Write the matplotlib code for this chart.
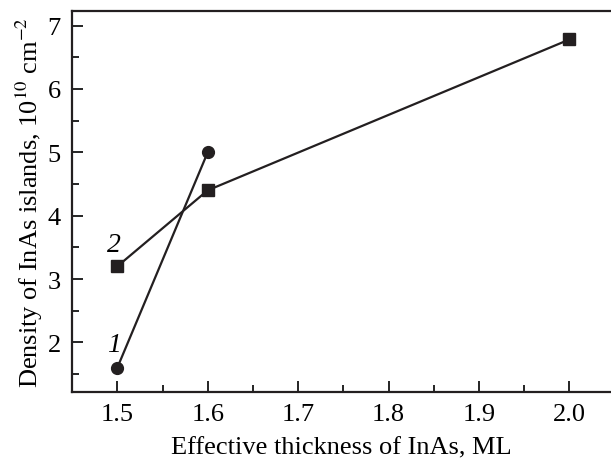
import matplotlib.pyplot as plt
from matplotlib.ticker import MultipleLocator

plt.rcParams['font.family'] = ['Liberation Serif', 'DejaVu Serif']
plt.rcParams['mathtext.fontset'] = 'stix'

# Data
x1 = [1.5, 1.6]
y1 = [1.6, 5.0]
x2 = [1.5, 1.6, 2.0]
y2 = [3.2, 4.4, 6.78]

fig = plt.figure(figsize=(6.11, 4.6), dpi=100)
ax = fig.add_axes([0.118, 0.146, 0.882, 0.828])

ax.plot(x1, y1, color='#231f20', lw=1.6, marker='o', ms=8.5)
ax.plot(x2, y2, color='#231f20', lw=1.6, marker='s', ms=8.5)

ax.text(1.496, 1.97, '1', fontsize=20, style='italic', ha='center', va='center')
ax.text(1.496, 3.54, '2', fontsize=20, style='italic', ha='center', va='center')

ax.set_xlim(1.45, 2.046)
ax.set_ylim(1.22, 7.23)
ax.xaxis.set_major_locator(MultipleLocator(0.1))
ax.xaxis.set_minor_locator(MultipleLocator(0.05))
ax.yaxis.set_major_locator(MultipleLocator(1))
ax.yaxis.set_minor_locator(MultipleLocator(0.5))
ax.set_xticks([1.5, 1.6, 1.7, 1.8, 1.9, 2.0])
ax.set_xticklabels(['1.5', '1.6', '1.7', '1.8', '1.9', '2.0'])

ax.tick_params(which='major', direction='in', length=8, width=1.2, labelsize=19, pad=8)
ax.tick_params(which='minor', direction='in', length=5, width=1.2)
ax.spines['right'].set_visible(False)
for s in ['left', 'top', 'bottom']:
    ax.spines[s].set_linewidth(1.6)
    ax.spines[s].set_color('#231f20')

ax.set_xlabel('Effective thickness of InAs, ML', fontsize=19, labelpad=8)
ax.set_ylabel(r'Density of InAs islands, 10$^{10}$ cm$^{-2}$', fontsize=19, labelpad=2)

fig.savefig('out.png', dpi=100)
